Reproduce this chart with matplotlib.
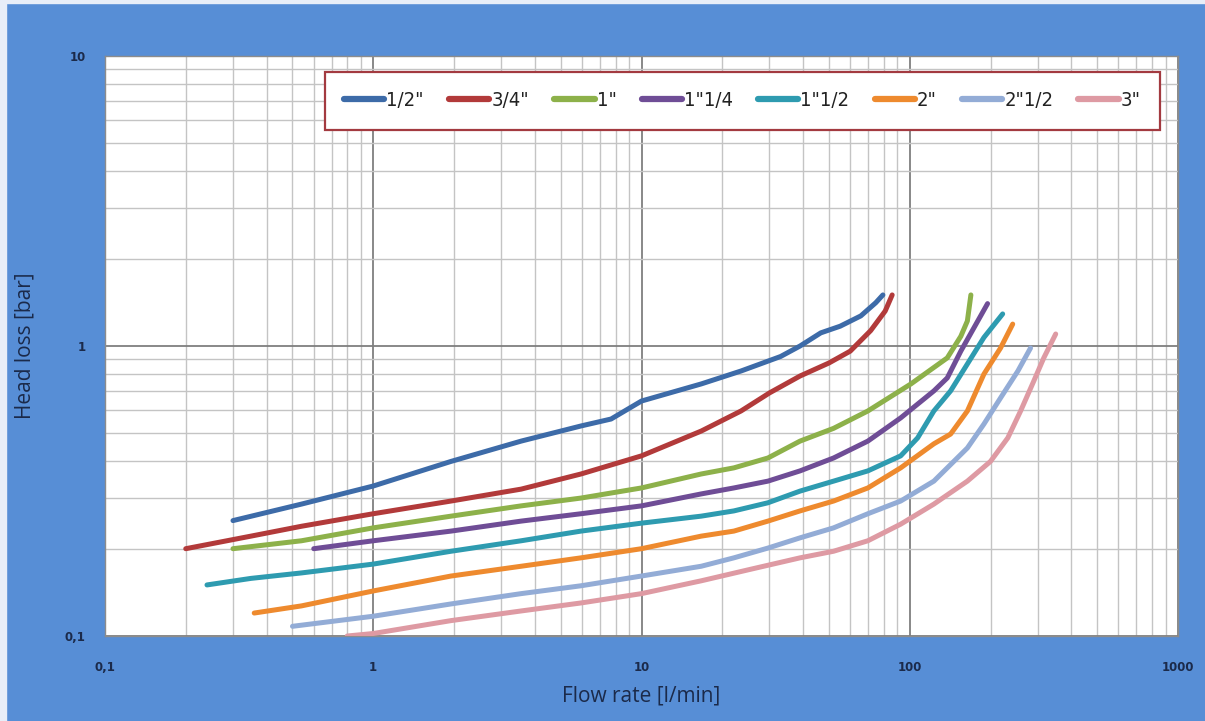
import numpy as np
import matplotlib
matplotlib.use("Agg")
import matplotlib.pyplot as plt
from matplotlib.ticker import FixedLocator, NullFormatter, FuncFormatter
from matplotlib.patches import Rectangle

labels = ['1/2"', '3/4"', '1"', '1"1/4', '1"1/2', '2"', '2"1/2', '3"']
colors = ["#3D6BA8", "#B23A3A", "#8DB14A", "#6F4D96", "#2E9BB0",
          "#EE8A2E", "#93ACD6", "#DE9AA3"]

flow_half = [0.3, 0.54, 1.0, 1.95, 3.56, 5.95, 7.7, 10, 16.7, 23.5, 33, 39,
             46.6, 55, 65.7, 74.7, 79.4]
loss_half = [0.25, 0.285, 0.329, 0.40, 0.47, 0.53, 0.56, 0.646, 0.74, 0.82,
             0.92, 1.0, 1.11, 1.17, 1.27, 1.41, 1.5]

flow_3q = [0.2, 0.35, 0.54, 1.0, 1.95, 3.56, 5.95, 10, 16.7, 23.5, 30, 39,
           50, 60, 71.5, 81, 86]
loss_3q = [0.2, 0.221, 0.239, 0.264, 0.292, 0.321, 0.362, 0.418, 0.509,
           0.597, 0.689, 0.788, 0.874, 0.96, 1.13, 1.32, 1.5]

flow_1 = [0.3, 0.54, 1.0, 1.95, 3.56, 5.95, 10, 16.7, 22.1, 29.6, 39, 52,
          69.8, 101, 138, 155, 164, 169]
loss_1 = [0.2, 0.213, 0.236, 0.259, 0.281, 0.299, 0.324, 0.362, 0.38, 0.411,
          0.47, 0.52, 0.597, 0.74, 0.91, 1.08, 1.22, 1.5]

flow_114 = [0.6, 1.0, 1.95, 3.56, 5.95, 10, 16.7, 22.1, 29.6, 39, 52, 69.8,
            92.5, 123, 138, 155, 173, 195]
loss_114 = [0.2, 0.213, 0.23, 0.249, 0.264, 0.281, 0.309, 0.324, 0.342,
            0.371, 0.411, 0.47, 0.565, 0.70, 0.776, 0.96, 1.15, 1.40]

flow_112 = [0.24, 0.35, 0.54, 1.0, 1.95, 3.56, 5.95, 10, 16.7, 22.1, 29.6,
            39, 52, 69.8, 92.5, 107, 123, 142, 164, 189, 222]
loss_112 = [0.15, 0.158, 0.165, 0.177, 0.196, 0.213, 0.23, 0.245, 0.259,
            0.27, 0.288, 0.316, 0.342, 0.371, 0.418, 0.482, 0.597, 0.70,
            0.867, 1.07, 1.29]

flow_2 = [0.36, 0.54, 1.0, 1.95, 3.56, 5.95, 10, 16.7, 22.1, 29.6, 39, 52,
          69.8, 92.5, 123, 142, 164, 189, 218, 242]
loss_2 = [0.12, 0.127, 0.143, 0.161, 0.174, 0.186, 0.2, 0.221, 0.23, 0.249,
          0.27, 0.292, 0.324, 0.38, 0.46, 0.497, 0.597, 0.80, 0.984, 1.19]

flow_212 = [0.5, 1.0, 1.95, 3.56, 5.95, 10, 16.7, 22.1, 29.6, 39, 52, 69.8,
            92.5, 123, 164, 189, 218, 253, 282]
loss_212 = [0.108, 0.117, 0.129, 0.14, 0.149, 0.161, 0.174, 0.186, 0.201,
            0.218, 0.236, 0.264, 0.292, 0.342, 0.445, 0.538, 0.662, 0.82,
            0.984]

flow_3 = [0.8, 1.0, 1.95, 3.56, 5.95, 10, 16.7, 25.6, 39, 52, 69.8, 92.5,
          123, 164, 200, 232, 259, 290, 316, 350]
loss_3 = [0.1, 0.102, 0.113, 0.122, 0.13, 0.14, 0.155, 0.17, 0.186, 0.196,
          0.213, 0.243, 0.285, 0.342, 0.40, 0.482, 0.597, 0.757, 0.91, 1.1]

series = [(flow_half, loss_half), (flow_3q, loss_3q), (flow_1, loss_1),
          (flow_114, loss_114), (flow_112, loss_112), (flow_2, loss_2),
          (flow_212, loss_212), (flow_3, loss_3)]

x_major = [0.1, 1, 10, 100, 1000]
y_major = [0.1, 1, 10]

bg = "#578ED6"
text_col = "#1B2A4A"

fig = plt.figure(figsize=(12.05, 7.21), dpi=100, facecolor=bg)
fig.patches.append(Rectangle((0, 0), 6 / 1205, 1, transform=fig.transFigure,
                             color="#E8EEF8", zorder=0))
fig.patches.append(Rectangle((0, 1 - 3 / 721), 1, 3 / 721,
                             transform=fig.transFigure, color="#E8EEF8",
                             zorder=0))
ax = fig.add_axes([105 / 1205, 85 / 721, 1073 / 1205, 580 / 721])
ax.set_facecolor("white")

for (xs, ys), lab, c in zip(series, labels, colors):
    ax.plot(xs, ys, color=c, linewidth=3.6, label=lab,
            solid_capstyle="round", zorder=3)

ax.set_xscale("log")
ax.set_yscale("log")
ax.set_xlim(0.1, 1000)
ax.set_ylim(0.1, 10)

ax.xaxis.set_major_locator(FixedLocator(x_major))
ax.yaxis.set_major_locator(FixedLocator(y_major))
minor_x = [m * d for d in [0.1, 1, 10, 100] for m in range(2, 10)]
minor_y = [m * d for d in [0.1, 1] for m in range(2, 10)]
ax.xaxis.set_minor_locator(FixedLocator(minor_x))
ax.yaxis.set_minor_locator(FixedLocator(minor_y))
ax.xaxis.set_minor_formatter(NullFormatter())
ax.yaxis.set_minor_formatter(NullFormatter())

fmt = FuncFormatter(lambda v, p: ("%g" % v).replace(".", ","))
ax.xaxis.set_major_formatter(fmt)
ax.yaxis.set_major_formatter(fmt)

ax.grid(True, which="major", color="#7F7F7F", linewidth=1.3, zorder=1)
ax.grid(True, which="minor", color="#C4C4C4", linewidth=1.0, zorder=1)
ax.set_axisbelow(True)
ax.tick_params(which="both", length=0)
ax.tick_params(axis="x", pad=18, labelsize=8.5, labelcolor=text_col)
ax.tick_params(axis="y", pad=14, labelsize=8.5, labelcolor=text_col)
for t in ax.get_xticklabels() + ax.get_yticklabels():
    t.set_fontweight("bold")
for s in ax.spines.values():
    s.set_color("#8C8C8C")
    s.set_linewidth(1.0)

ax.set_xlabel("Flow rate [l/min]", fontsize=15, color=text_col,
              family=["Open Sans", "DejaVu Sans"], labelpad=8)
ax.set_ylabel("Head loss [bar]", fontsize=15, color=text_col,
              family=["Open Sans", "DejaVu Sans"])
ax.yaxis.set_label_coords(-70 / 1073, 0.5)

leg = ax.legend(loc="upper right", bbox_to_anchor=(0.983, 0.972), ncol=8,
                frameon=True, fancybox=False, handlelength=2.0,
                handletextpad=0.1, columnspacing=1.25, borderpad=0.95,
                borderaxespad=0,
                prop={"family": "DejaVu Sans", "stretch": "condensed",
                      "size": 14.5})
leg.get_frame().set_edgecolor("#A33A40")
leg.get_frame().set_linewidth(1.6)
leg.get_frame().set_facecolor("white")
leg.get_frame().set_alpha(1)
for line in leg.get_lines():
    line.set_linewidth(4.5)
for t in leg.get_texts():
    t.set_color("#222222")

fig.savefig("out.png", dpi=100, facecolor=bg)
